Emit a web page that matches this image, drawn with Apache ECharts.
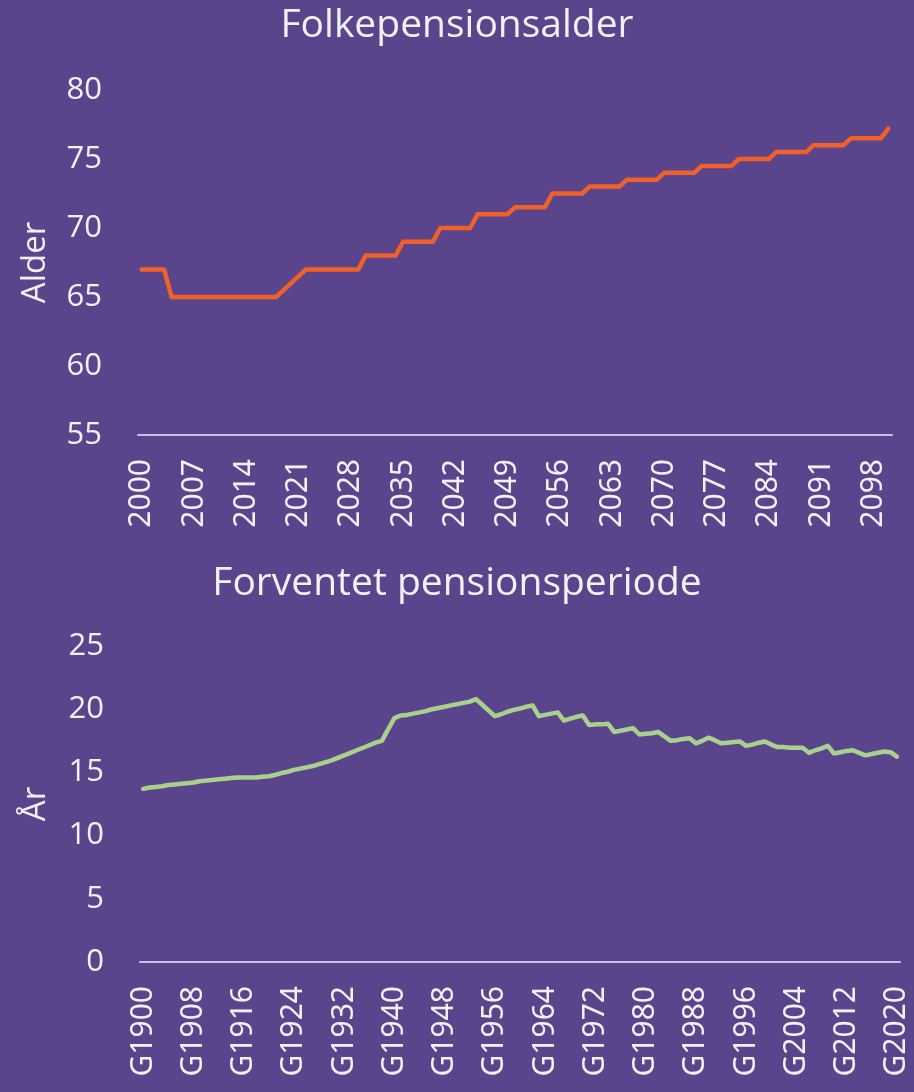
<!DOCTYPE html>
<html>
<head>
<meta charset="utf-8">
<script src="https://cdn.jsdelivr.net/npm/echarts@6/dist/echarts.min.js"></script>
<style>
  html, body { margin: 0; padding: 0; background: #5a458c; }
  #chart { width: 914px; height: 1092px; }
</style>
</head>
<body>
<div id="chart"></div>
<script>
// Folkepensionsalder, years 2000-2100
const ageYears = [];
for (let y = 2000; y <= 2100; y++) ageYears.push(String(y));
const ageValues = [
  67, 67, 67, 67, 65, 65, 65, 65, 65, 65,          // 2000-2009
  65, 65, 65, 65, 65, 65, 65, 65, 65, 65.5,        // 2010-2019
  66, 66.5, 67, 67, 67, 67, 67, 67, 67, 67,        // 2020-2029
  68, 68, 68, 68, 68, 69, 69, 69, 69, 69,          // 2030-2039
  70, 70, 70, 70, 70, 71, 71, 71, 71, 71,          // 2040-2049
  71.5, 71.5, 71.5, 71.5, 71.5, 72.5, 72.5, 72.5, 72.5, 72.5, // 2050-2059
  73, 73, 73, 73, 73, 73.5, 73.5, 73.5, 73.5, 73.5, // 2060-2069
  74, 74, 74, 74, 74, 74.5, 74.5, 74.5, 74.5, 74.5, // 2070-2079
  75, 75, 75, 75, 75, 75.5, 75.5, 75.5, 75.5, 75.5, // 2080-2089
  76, 76, 76, 76, 76, 76.5, 76.5, 76.5, 76.5, 76.5, // 2090-2099
  77.2                                             // 2100
];

// Forventet pensionsperiode, cohorts G1900-G2020
const cohorts = [];
for (let y = 1900; y <= 2020; y++) cohorts.push('G' + y);
const periodValues = [
  13.7, 13.8, 13.85, 13.9, 14.0, 14.05, 14.1, 14.15, 14.2, 14.3,      // 1900-1909
  14.35, 14.4, 14.45, 14.5, 14.55, 14.6, 14.6, 14.6, 14.6, 14.65,     // 1910-1919
  14.7, 14.8, 14.95, 15.05, 15.2, 15.3, 15.4, 15.5, 15.65, 15.8,      // 1920-1929
  15.95, 16.15, 16.35, 16.55, 16.75, 16.95, 17.15, 17.35, 17.5, 18.4, // 1930-1939
  19.3, 19.5, 19.55, 19.65, 19.75, 19.85, 20.0, 20.1, 20.2, 20.3,     // 1940-1949
  20.4, 20.5, 20.6, 20.8, 20.35, 19.9, 19.45, 19.6, 19.8, 19.95,      // 1950-1959
  20.05, 20.2, 20.3, 19.45, 19.55, 19.65, 19.75, 19.1, 19.25, 19.4,   // 1960-1969
  19.5, 18.75, 18.8, 18.8, 18.85, 18.2, 18.3, 18.4, 18.5, 18.0,       // 1970-1979
  18.05, 18.1, 18.2, 17.85, 17.5, 17.55, 17.65, 17.7, 17.3, 17.5,     // 1980-1989
  17.75, 17.55, 17.3, 17.35, 17.4, 17.45, 17.1, 17.2, 17.35, 17.45,   // 1990-1999
  17.2, 17.0, 17.0, 16.95, 16.95, 16.95, 16.55, 16.75, 16.9, 17.1,    // 2000-2009
  16.5, 16.6, 16.7, 16.75, 16.55, 16.35, 16.45, 16.55, 16.65, 16.6,   // 2010-2019
  16.25                                                               // 2020
];

const bg = '#5a458c';
const textColor = '#f2f0f7';
const axisColor = '#c9bfe3';
const uiFont = '"Open Sans"';
const tickFont = '"Noto Sans"';

const chart = echarts.init(document.getElementById('chart'));

function xAxisFor(grid, data, every) {
  return {
    type: 'category',
    gridIndex: grid,
    data: data,
    boundaryGap: true,
    axisLine: { lineStyle: { color: axisColor, width: 2 } },
    axisTick: { show: false },
    axisLabel: {
      interval: every - 1,
      rotate: 90,
      margin: 24,
      color: textColor,
      fontFamily: tickFont,
      fontSize: 30,
      hideOverlap: false
    }
  };
}

function yAxisFor(grid, min, max, name, gap) {
  return {
    type: 'value',
    gridIndex: grid,
    min: min,
    max: max,
    interval: 5,
    name: name,
    nameLocation: 'middle',
    nameGap: gap,
    nameTextStyle: { color: textColor, fontFamily: uiFont, fontSize: 33 },
    axisLine: { show: false },
    axisTick: { show: false },
    splitLine: { show: false },
    axisLabel: {
      margin: 36,
      color: textColor,
      fontFamily: uiFont,
      fontSize: 31
    }
  };
}

chart.setOption({
  backgroundColor: bg,
  animation: false,
  title: [
    {
      text: 'Folkepensionsalder',
      left: 'center',
      top: 1,
      textStyle: { color: textColor, fontFamily: uiFont, fontSize: 39, fontWeight: 'normal' }
    },
    {
      text: 'Forventet pensionsperiode',
      left: 'center',
      top: 559,
      textStyle: { color: textColor, fontFamily: uiFont, fontSize: 39, fontWeight: 'normal' }
    }
  ],
  grid: [
    { left: 138, top: 90, width: 754, height: 345 },
    { left: 140, top: 646, width: 760, height: 316 }
  ],
  xAxis: [
    xAxisFor(0, ageYears, 7),
    xAxisFor(1, cohorts, 8)
  ],
  yAxis: [
    yAxisFor(0, 55, 80, 'Alder', 86),
    yAxisFor(1, 0, 25, 'År', 88)
  ],
  series: [
    {
      type: 'line',
      xAxisIndex: 0,
      yAxisIndex: 0,
      data: ageValues,
      showSymbol: false,
      lineStyle: { color: '#ef6127', width: 4.5, cap: 'round', join: 'round' }
    },
    {
      type: 'line',
      xAxisIndex: 1,
      yAxisIndex: 1,
      data: periodValues,
      showSymbol: false,
      lineStyle: { color: '#a9d18e', width: 4.5, cap: 'round', join: 'round' }
    }
  ]
});
</script>
</body>
</html>
